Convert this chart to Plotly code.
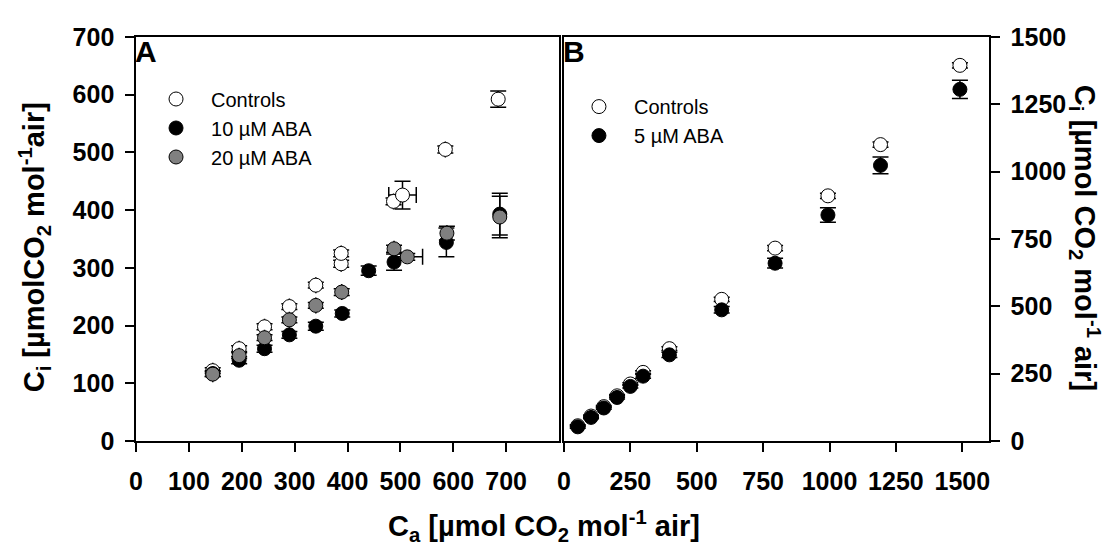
import plotly.graph_objects as go

# ---------------- Panel A data ----------------
ca_ctrl_A = [145, 195, 243, 290, 340, 388, 388, 487, 504, 585, 685]
ci_ctrl_A = [122, 160, 198, 233, 270, 307, 325, 415, 426, 505, 592]
ci_ctrl_A_err = [5, 5, 5, 5, 5, 6, 6, 6, 24, 6, 14]
ca_ctrl_A_err = [0, 0, 0, 0, 0, 0, 0, 0, 26, 0, 0]

ca_aba10_A = [145, 195, 243, 290, 340, 390, 440, 488, 587, 688]
ci_aba10_A = [117, 140, 160, 184, 199, 221, 295, 310, 344, 393]
ci_aba10_A_err = [5, 6, 6, 6, 7, 6, 8, 14, 25, 36]

ca_aba20_A = [145, 195, 243, 290, 340, 389, 488, 513, 588, 688]
ci_aba20_A = [116, 148, 179, 210, 235, 258, 333, 319, 360, 388]
ci_aba20_A_err = [4, 5, 5, 5, 5, 6, 6, 6, 12, 36]
ca_aba20_A_err = [0, 0, 0, 0, 0, 0, 0, 29, 0, 0]

# ---------------- Panel B data ----------------
ca_B = [52, 102, 150, 200, 250, 298, 397, 594, 795, 994, 1192, 1491]
ci_ctrl_B = [57, 93, 128, 168, 212, 255, 343, 526, 716, 910, 1100, 1394]
ci_ctrl_B_err = [4, 4, 4, 5, 5, 6, 7, 8, 10, 10, 10, 10]
ci_aba5_B = [53, 88, 123, 162, 203, 241, 320, 487, 660, 839, 1023, 1305]
ci_aba5_B_err = [5, 5, 5, 6, 6, 8, 10, 12, 18, 27, 31, 34]

xticks_A = [0, 100, 200, 300, 400, 500, 600, 700]
yticks_A = [0, 100, 200, 300, 400, 500, 600, 700]
xticks_B = [0, 250, 500, 750, 1000, 1250, 1500]
yticks_B = [0, 250, 500, 750, 1000, 1250, 1500]

W, H = 1109, 551
FONT = "Liberation Sans, Arial, sans-serif"
MS = 14


def err(arr, show=True):
    return dict(type="data", array=arr, visible=show, color="black",
                thickness=1.5, width=8)


fig = go.Figure()

fig.add_trace(go.Scatter(
    x=ca_ctrl_A, y=ci_ctrl_A, mode="markers", name="Controls",
    marker=dict(size=MS, color="white", line=dict(color="black", width=1)),
    error_y=err(ci_ctrl_A_err), error_x=err(ca_ctrl_A_err),
    xaxis="x", yaxis="y", legend="legend"))
fig.add_trace(go.Scatter(
    x=ca_aba10_A, y=ci_aba10_A, mode="markers", name="10 µM ABA",
    marker=dict(size=MS, color="black", line=dict(color="black", width=1)),
    error_y=err(ci_aba10_A_err),
    xaxis="x", yaxis="y", legend="legend"))
fig.add_trace(go.Scatter(
    x=ca_aba20_A, y=ci_aba20_A, mode="markers", name="20 µM ABA",
    marker=dict(size=MS, color="#808080", line=dict(color="black", width=1)),
    error_y=err(ci_aba20_A_err), error_x=err(ca_aba20_A_err),
    xaxis="x", yaxis="y", legend="legend"))

fig.add_trace(go.Scatter(
    x=ca_B, y=ci_ctrl_B, mode="markers", name="Controls",
    marker=dict(size=MS, color="white", line=dict(color="black", width=1)),
    error_y=err(ci_ctrl_B_err),
    xaxis="x2", yaxis="y2", legend="legend2"))
fig.add_trace(go.Scatter(
    x=ca_B, y=ci_aba5_B, mode="markers", name="5 µM ABA",
    marker=dict(size=MS, color="black", line=dict(color="black", width=1)),
    error_y=err(ci_aba5_B_err),
    xaxis="x2", yaxis="y2", legend="legend2"))

y0, y1 = 1 - 450 / H, 1 - 24 / H
tickfont = dict(family=FONT, size=25, color="black", weight="bold")
common = dict(showline=True, linecolor="black", linewidth=1.5, mirror=True,
              ticks="outside", ticklen=9, tickwidth=1.5, tickcolor="black",
              showgrid=False, zeroline=False, tickfont=tickfont)

legfont = dict(family=FONT, size=20, color="black")
fig.update_layout(
    width=W, height=H, margin=dict(l=0, r=0, t=0, b=0),
    paper_bgcolor="white", plot_bgcolor="white",
    xaxis=dict(domain=[130 / W, 556 / W], range=[0, 800], tickvals=xticks_A,
               anchor="y", ticklabelstandoff=8, **common),
    yaxis=dict(domain=[y0, y1], range=[0, 700], tickvals=yticks_A,
               anchor="x", ticklabelstandoff=6, **common),
    xaxis2=dict(domain=[561 / W, 989 / W], range=[0, 1600], tickvals=xticks_B,
                anchor="y2", ticklabelstandoff=8, **common),
    yaxis2=dict(domain=[y0, y1], range=[0, 1500], tickvals=yticks_B,
                anchor="x2", side="right", ticklabelstandoff=6, **common),
    legend=dict(x=135 / W, y=1 - 69 / H, xanchor="left", yanchor="top",
                bgcolor="rgba(0,0,0,0)", font=legfont, itemwidth=60),
    legend2=dict(x=561 / W, y=1 - 77 / H, xanchor="left", yanchor="top",
                 bgcolor="rgba(0,0,0,0)", font=legfont, itemwidth=60),
    showlegend=True,
)

title_font = dict(family=FONT, size=29, color="black", weight="bold")
fig.add_annotation(text="C<sub>i</sub> [µmolCO<sub>2</sub> mol<sup>-1</sup>air]",
                   x=28 / W, y=1 - 246 / H, xref="paper", yref="paper",
                   xanchor="center", yanchor="middle",
                   textangle=-90, showarrow=False, font=title_font)
fig.add_annotation(text="C<sub>i</sub> [µmol CO<sub>2</sub> mol<sup>-1</sup> air]",
                   x=1086 / W, y=1 - 236 / H, xref="paper", yref="paper",
                   xanchor="center", yanchor="middle",
                   textangle=90, showarrow=False, font=title_font)
fig.add_annotation(text="C<sub>a</sub> [µmol CO<sub>2</sub> mol<sup>-1</sup> air]",
                   x=541 / W, y=1 - 539 / H, xref="paper", yref="paper",
                   xanchor="center", yanchor="middle", showarrow=False, font=title_font)

panel_font = dict(family=FONT, size=30, color="black", weight="bold")
fig.add_annotation(text="A", x=127 / W, y=1 - 39 / H, xref="paper", yref="paper",
                   xanchor="left", yanchor="middle", showarrow=False, font=panel_font)
fig.add_annotation(text="B", x=558 / W, y=1 - 39 / H, xref="paper", yref="paper",
                   xanchor="left", yanchor="middle", showarrow=False, font=panel_font)

fig.write_html("out.html")
